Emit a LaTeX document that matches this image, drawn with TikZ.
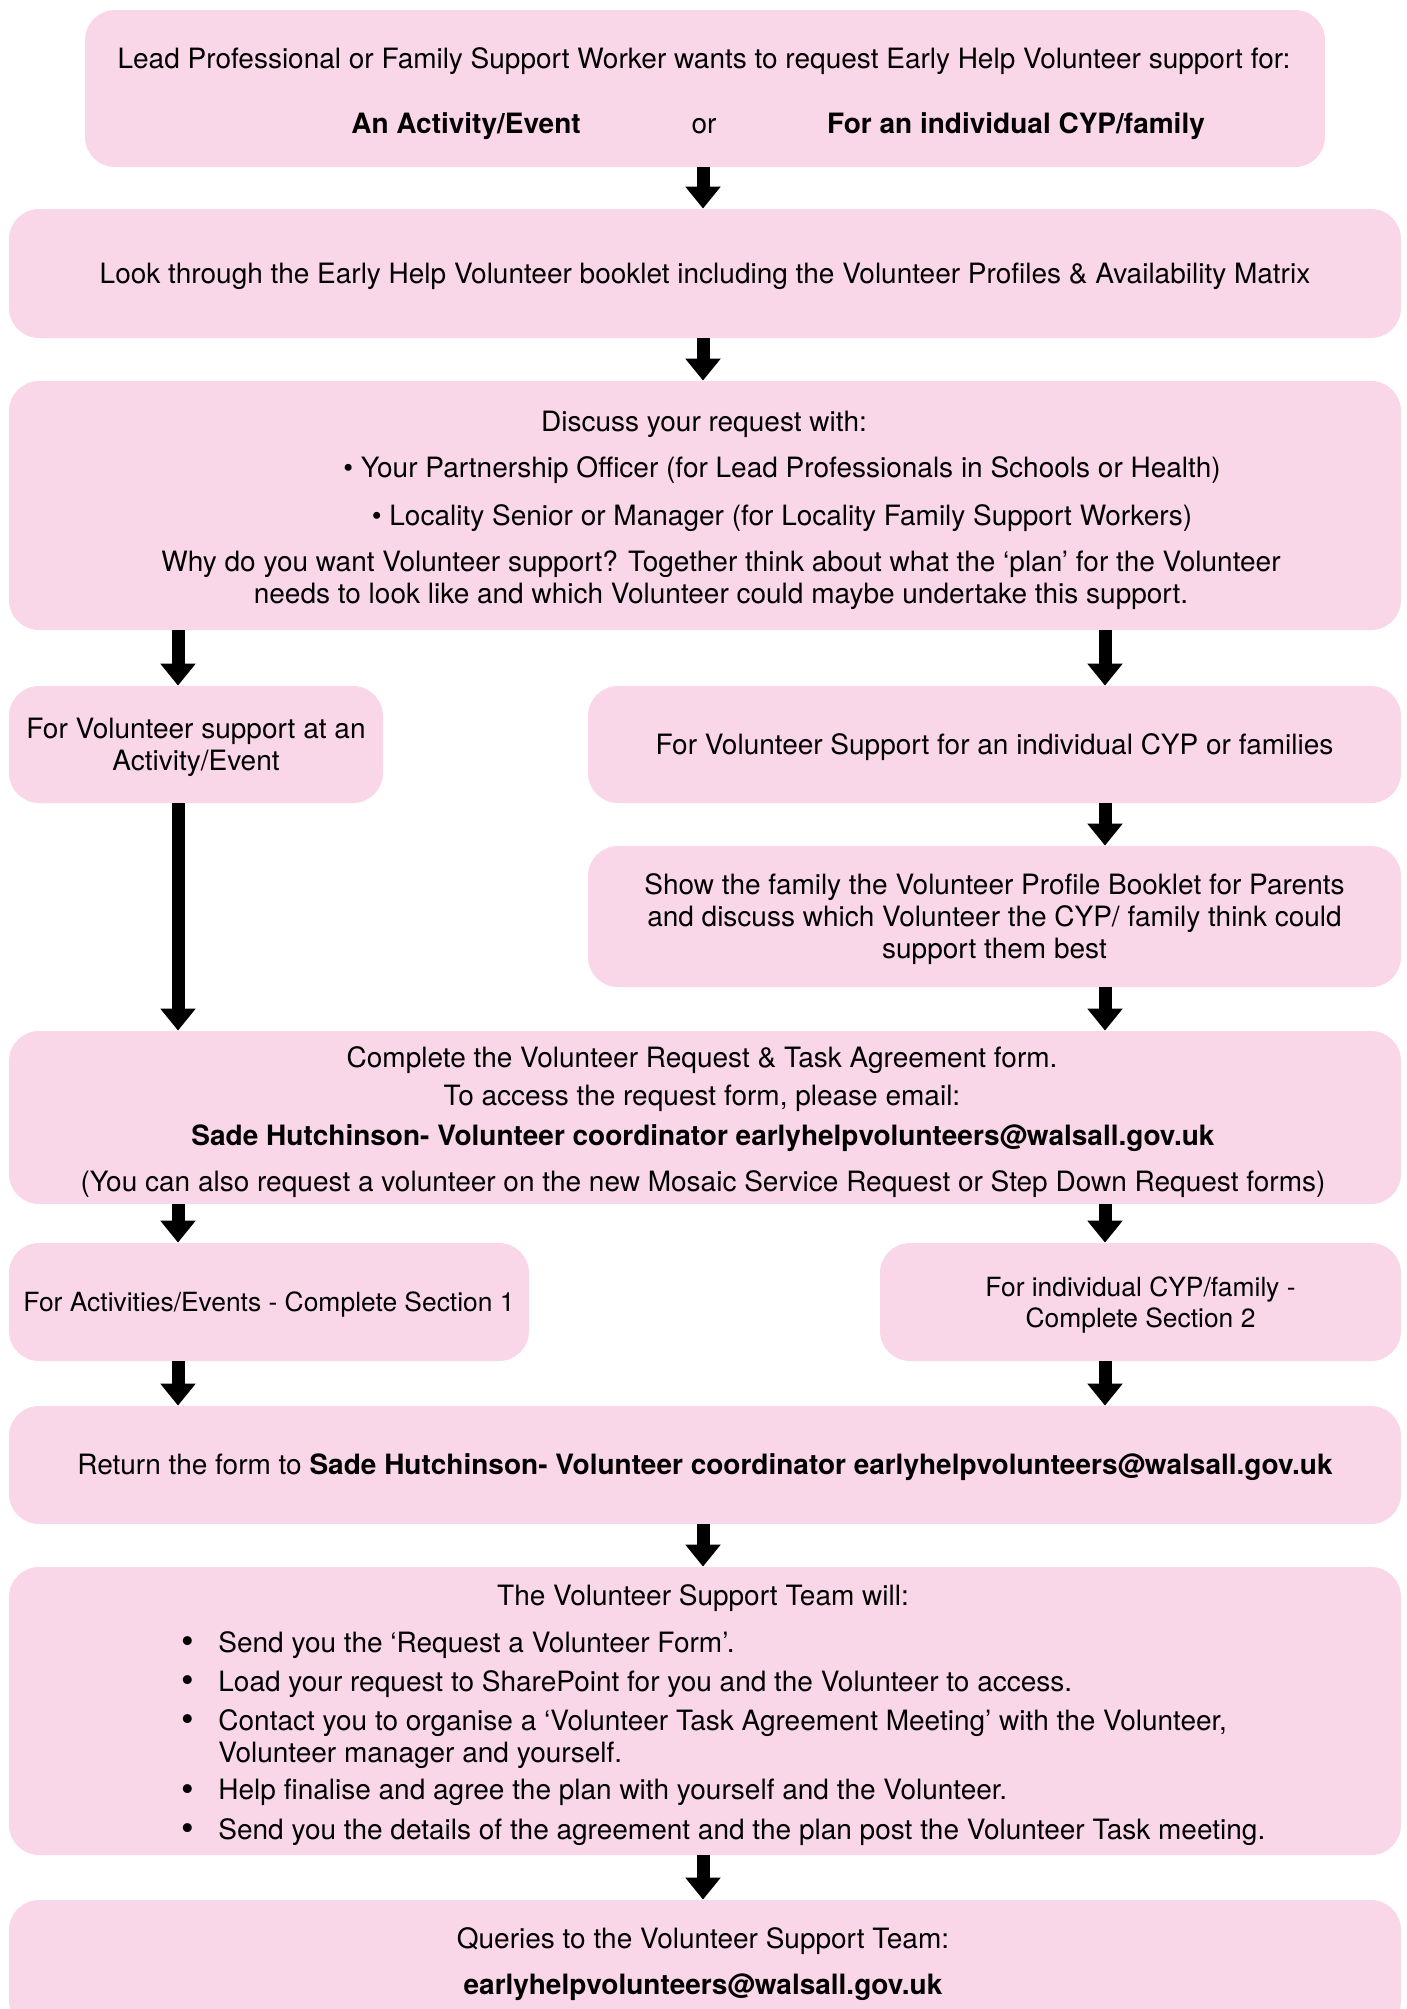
\documentclass[tikz,border=0pt]{standalone}
\usepackage{fontspec}
\setmainfont{TeX Gyre Heros}
\usetikzlibrary{arrows.meta}
\definecolor{boxpink}{RGB}{249,215,232}
\newcommand{\teambullet}{\llap{\raisebox{-0.8pt}{\fontsize{18}{16}\selectfont •}\hspace{12pt}}}

\begin{document}
\begin{tikzpicture}[x=0.5pt, y=-0.5pt,
    box/.style={rectangle, rounded corners=15pt, fill=boxpink, inner sep=0pt},
    txt/.style={font=\fontsize{14}{16}\selectfont, align=center, inner sep=0pt, yshift=-1.3pt},
    bold/.style={font=\fontsize{14}{16}\selectfont\bfseries},
    small/.style={font=\fontsize{13.2}{15.5}\selectfont},
    flow/.style={line width=6.5pt, -{Triangle[length=11pt, width=17pt]}}]
    \useasboundingbox (0,0) rectangle (1407,2009);

    % columns of the arrows
    \coordinate (lcol) at (178,0);
    \coordinate (mcol) at (703,0);
    \coordinate (rcol) at (1105,0);

    \node[box, minimum width=620pt, minimum height=78.5pt] (request) at (705,88.5) {};
    \node[txt] (requestline) at (704,58) {Lead Professional or Family Support Worker wants to request Early Help Volunteer support for:};
    \node[txt, bold] (optevent) at (466,124) {An Activity/Event};
    \node[txt] (optor) at (704,124) {or};
    \node[txt, bold] (optfamily) at (1016,124) {For an individual CYP/family};

    \node[box, minimum width=696pt, minimum height=64.5pt] (look) at (705,273.5) {};
    \node[txt] (looktext) at (look) {Look through the Early Help Volunteer booklet including the Volunteer Profiles \& Availability Matrix};

    \node[box, minimum width=696pt, minimum height=124.5pt] (discuss) at (705,505.5) {};
    \node[txt] (discusshead) at (704,422) {Discuss your request with:};
    \node[txt] (discussofficer) at (782,467) {• Your Partnership Officer (for Lead Professionals in Schools or Health)};
    \node[txt] (discusssenior) at (782,515) {• Locality Senior or Manager (for Locality Family Support Workers)};
    \node[txt] (discusswhy) at (721,578) {Why do you want Volunteer support? Together think about what the ‘plan’ for the Volunteer\\needs to look like and which Volunteer could maybe undertake this support.};

    \node[box, minimum width=187pt, minimum height=58.5pt] (activity) at (196,744.5) {};
    \node[txt] (activitytext) at (activity) {For Volunteer support at an\\Activity/Event};
    \node[box, minimum width=406.5pt, minimum height=58.5pt] (individual) at (994.5,744.5) {};
    \node[txt] (individualtext) at (individual) {For Volunteer Support for an individual CYP or families};
    \node[box, minimum width=406.5pt, minimum height=70.5pt] (booklet) at (994.5,916.5) {};
    \node[txt] (booklettext) at (booklet) {Show the family the Volunteer Profile Booklet for Parents\\and discuss which Volunteer the CYP/ family think could\\support them best};

    \node[box, minimum width=696pt, minimum height=86.5pt] (complete) at (705,1117.5) {};
    \node[txt] (completeform) at (702,1057) {Complete the Volunteer Request \& Task Agreement form.};
    \node[txt] (completeaccess) at (702,1096) {To access the request form, please email:};
    \node[txt, bold] (completecontact) at (703,1136) {Sade Hutchinson- Volunteer coordinator earlyhelpvolunteers@walsall.gov.uk};
    \node[txt] (completemosaic) at (703,1181) {(You can also request a volunteer on the new Mosaic Service Request or Step Down Request forms)};

    \node[box, minimum width=260pt, minimum height=59pt] (sectionone) at (269,1302) {};
    \node[txt, small] (sectiononetext) at (sectionone) {For Activities/Events - Complete Section 1};
    \node[box, minimum width=260.5pt, minimum height=59pt] (sectiontwo) at (1140.5,1302) {};
    \node[txt, small] (sectiontwotext) at (sectiontwo) {For individual CYP/family -\\Complete Section 2};

    \node[box, minimum width=696pt, minimum height=59pt] (return) at (705,1465) {};
    \node[txt] (returntext) at (return) {Return the form to \textbf{Sade Hutchinson- Volunteer coordinator earlyhelpvolunteers@walsall.gov.uk}};

    \node[box, minimum width=696pt, minimum height=144pt] (team) at (705,1711) {};
    \node[txt] (teamhead) at (703,1595) {The Volunteer Support Team will:};
    \node[txt, anchor=west] (teamform) at (218,1642) {\teambullet Send you the ‘Request a Volunteer Form’.};
    \node[txt, anchor=west] (teamload) at (218,1681) {\teambullet Load your request to SharePoint for you and the Volunteer to access.};
    \node[txt, anchor=west, align=left] (teammeet) at (218,1736) {\teambullet Contact you to organise a ‘Volunteer Task Agreement Meeting’ with the Volunteer,\\Volunteer manager and yourself.};
    \node[txt, anchor=west] (teamplan) at (218,1790) {\teambullet Help finalise and agree the plan with yourself and the Volunteer.};
    \node[txt, anchor=west] (teamdetails) at (218,1829) {\teambullet Send you the details of the agreement and the plan post the Volunteer Task meeting.};

    \node[box, minimum width=696pt, minimum height=65pt] (queries) at (705,1965) {};
    \node[txt] (querieshead) at (703,1938) {Queries to the Volunteer Support Team:};
    \node[txt, bold] (queriesmail) at (703,1985) {earlyhelpvolunteers@walsall.gov.uk};

    \draw[flow] (request.south -| mcol) -- (look.north -| mcol);
    \draw[flow] (look.south -| mcol) -- (discuss.north -| mcol);
    \draw[flow] (discuss.south -| lcol) -- (activity.north -| lcol);
    \draw[flow] (discuss.south -| rcol) -- (individual.north -| rcol);
    \draw[flow] (individual.south -| rcol) -- (booklet.north -| rcol);
    \draw[flow] (activity.south -| lcol) -- (complete.north -| lcol);
    \draw[flow] (booklet.south -| rcol) -- (complete.north -| rcol);
    \draw[flow] (complete.south -| lcol) -- (sectionone.north -| lcol);
    \draw[flow] (complete.south -| rcol) -- (sectiontwo.north -| rcol);
    \draw[flow] (sectionone.south -| lcol) -- (return.north -| lcol);
    \draw[flow] (sectiontwo.south -| rcol) -- (return.north -| rcol);
    \draw[flow] (return.south -| mcol) -- (team.north -| mcol);
    \draw[flow] (team.south -| mcol) -- (queries.north -| mcol);
\end{tikzpicture}
\end{document}
